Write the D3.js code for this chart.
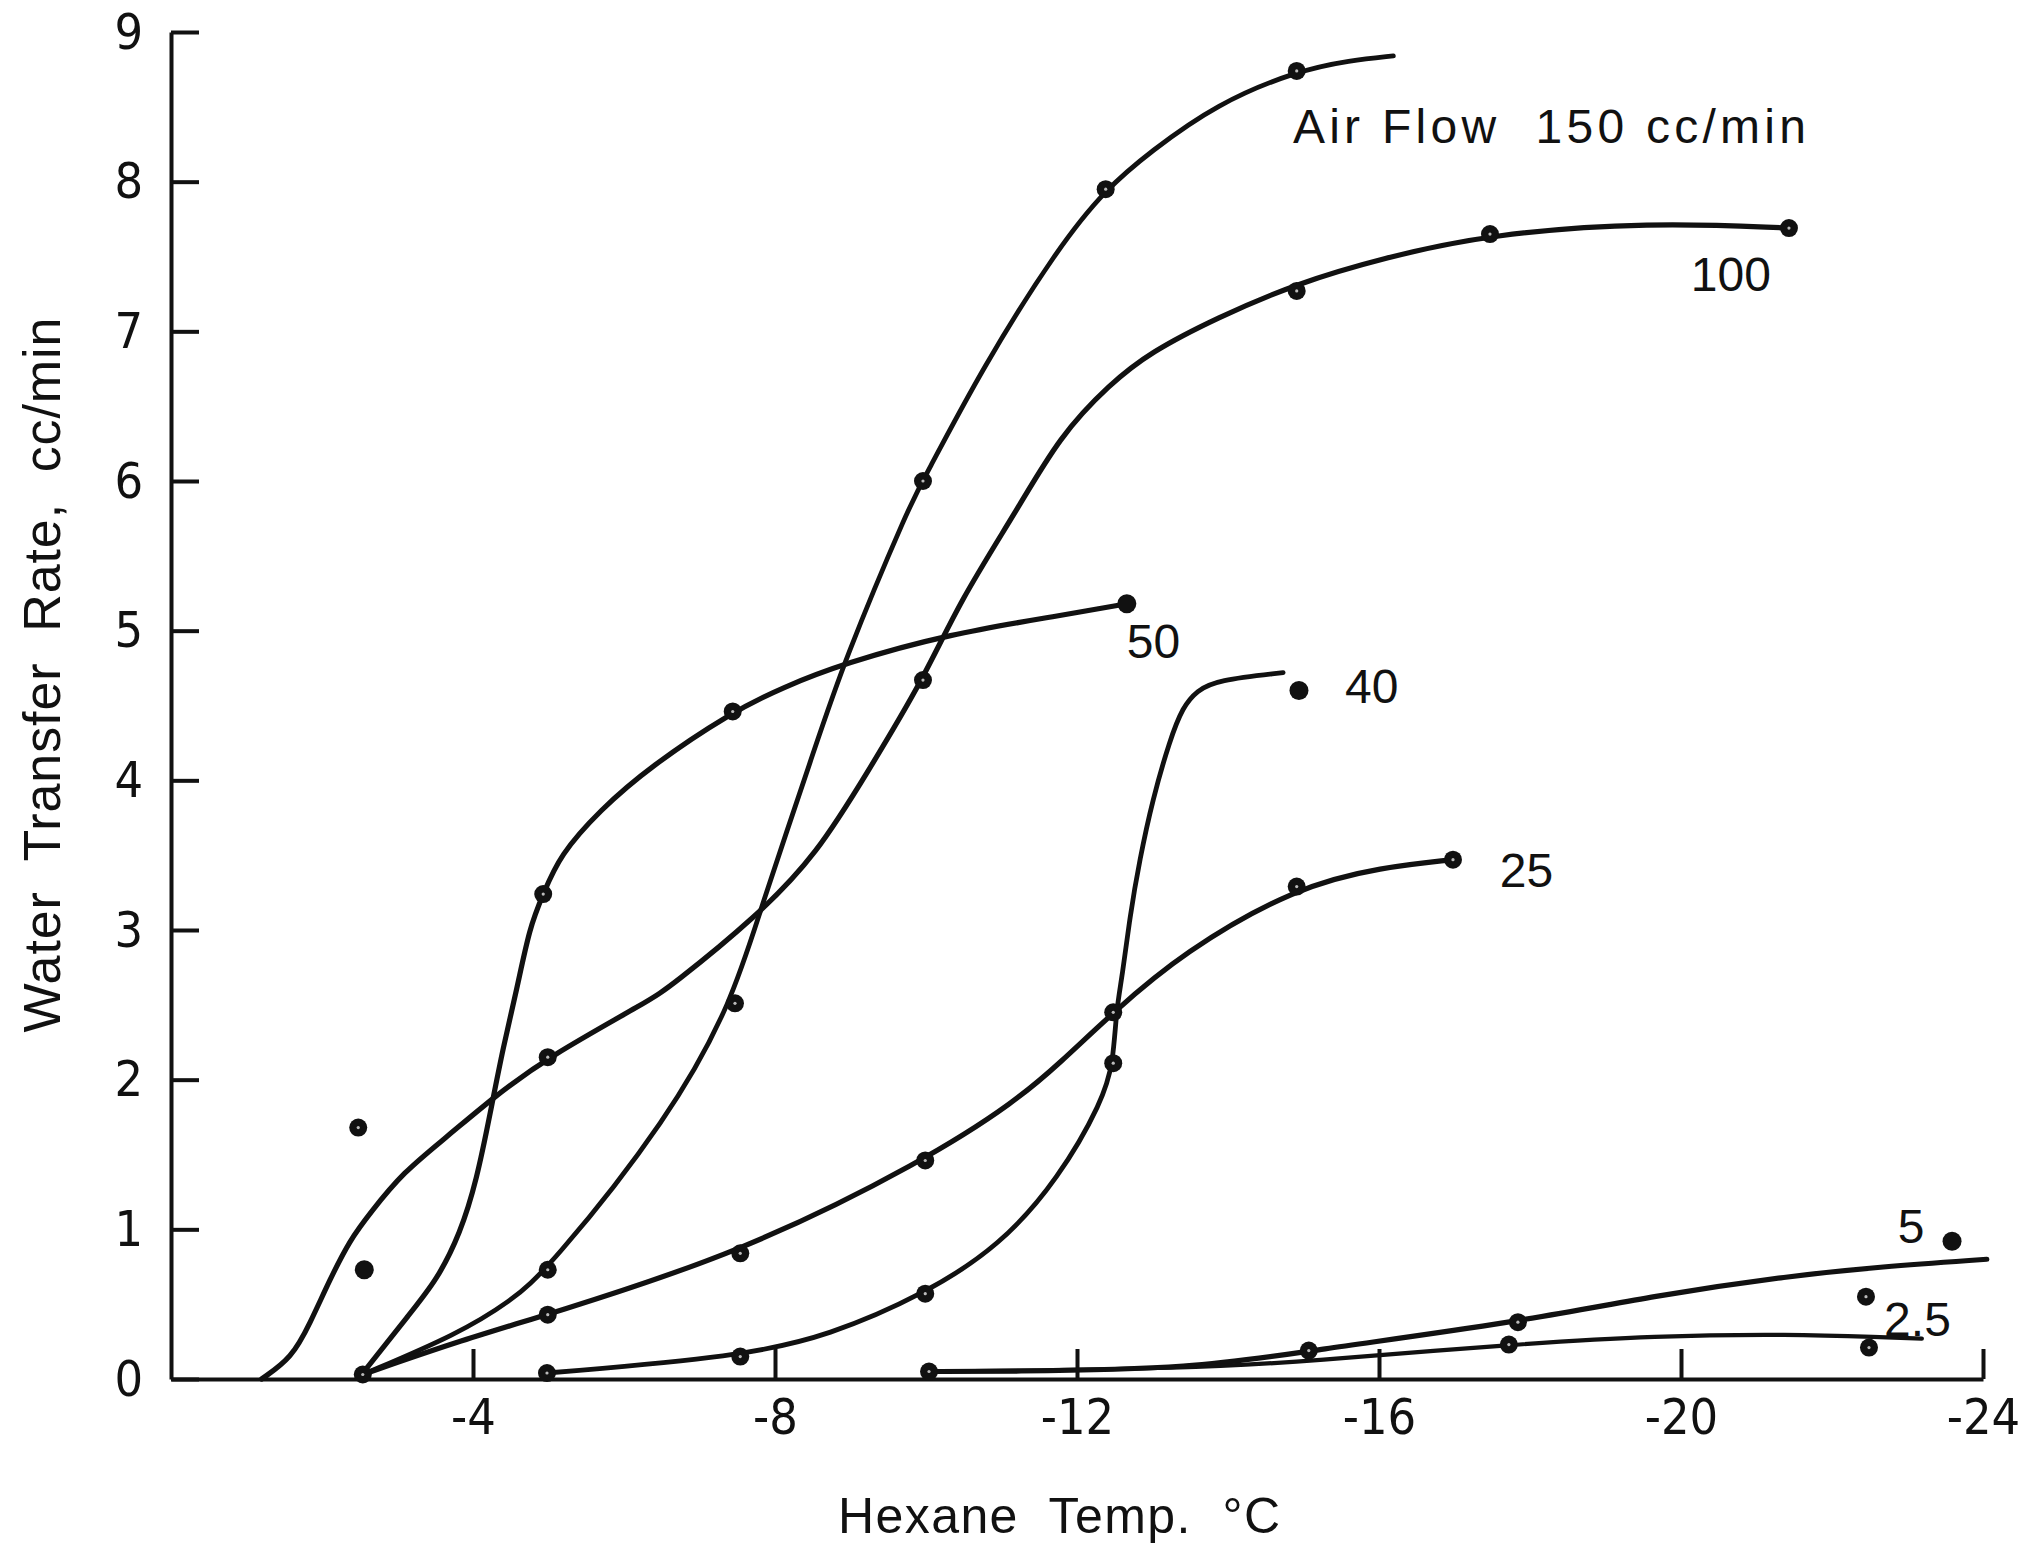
<!DOCTYPE html>
<html>
<head>
<meta charset="utf-8">
<script src="https://cdn.jsdelivr.net/npm/d3@7"></script>
<style>
  html, body { margin: 0; padding: 0; background: #fff; }
  svg { display: block; background: #fff; }
  text { fill: #111; }
  .tick text { font-family: "Liberation Sans Narrow", "DejaVu Sans Condensed", sans-serif; font-size: 50px; }
  .label { font-family: "Liberation Sans", "DejaVu Sans", sans-serif; font-size: 48px; white-space: pre; }
</style>
</head>
<body>
<svg id="chart" width="2037" height="1555"></svg>
<script>
// Water transfer rate vs. hexane temperature, one curve per air flow (cc/min)

var xTicks = [-4, -8, -12, -16, -20, -24];
var yTicks = [0, 1, 2, 3, 4, 5, 6, 7, 8, 9];

// each trace: [hexane temp C, rate cc/min]
var trace150 = [[-2.54, 0.03], [-3.8, 0.3], [-4.5, 0.52], [-4.99, 0.73], [-6.61, 1.75], [-7.44, 2.53],
  [-7.8, 3.13], [-8.52, 4.2], [-8.9, 4.78], [-9.81, 5.87], [-9.96, 6.0], [-10.75, 6.76],
  [-11.75, 7.56], [-12.38, 7.95], [-12.97, 8.2], [-13.85, 8.52], [-14.91, 8.74],
  [-15.62, 8.81], [-16.19, 8.84]];
var marks150 = [[-4.99, 0.73], [-7.47, 2.51], [-9.96, 6.0], [-12.38, 7.95], [-14.91, 8.74]];

var trace100 = [[-1.2, 0.0], [-1.6, 0.14], [-1.84, 0.37], [-2.1, 0.66], [-2.37, 0.93], [-2.64, 1.11],
  [-3.07, 1.38], [-3.66, 1.62], [-4.29, 1.89], [-4.99, 2.15], [-6.34, 2.53], [-6.61, 2.62],
  [-7.76, 3.09], [-8.56, 3.51], [-9.22, 4.05], [-9.96, 4.67], [-10.45, 5.2], [-11.2, 5.8],
  [-11.77, 6.3], [-12.44, 6.65], [-12.97, 6.86], [-13.85, 7.09], [-14.91, 7.32],
  [-16.05, 7.49], [-17.47, 7.65], [-19.59, 7.73], [-21.43, 7.69]];
var marks100 = [[-4.99, 2.15], [-9.96, 4.67], [-14.91, 7.27], [-17.47, 7.65], [-21.43, 7.69]];

var trace50 = [[-2.54, 0.04], [-3.17, 0.44], [-3.52, 0.66], [-3.83, 0.97], [-4.05, 1.33],
  [-4.23, 1.78], [-4.4, 2.22], [-4.58, 2.6], [-4.75, 3.02], [-4.93, 3.24], [-5.15, 3.5],
  [-5.68, 3.8], [-6.34, 4.09], [-7.44, 4.46], [-8.1, 4.62], [-8.9, 4.78], [-10.32, 4.98],
  [-11.77, 5.1], [-12.66, 5.18]];
var marks50 = [[-4.93, 3.24], [-7.44, 4.46]];

var trace40 = [[-4.98, 0.04], [-7.54, 0.15], [-8.72, 0.29], [-9.99, 0.57], [-10.98, 0.89],
  [-11.76, 1.34], [-12.34, 1.86], [-12.48, 2.11], [-12.52, 2.47], [-12.6, 2.69],
  [-12.7, 3.09], [-12.83, 3.47], [-13.0, 3.87], [-13.23, 4.27], [-13.4, 4.49],
  [-13.59, 4.6], [-13.85, 4.67], [-14.73, 4.72]];
var marks40 = [[-4.98, 0.04], [-7.54, 0.15], [-9.99, 0.57], [-12.48, 2.11]];

var trace25 = [[-2.54, 0.03], [-3.79, 0.25], [-4.99, 0.43], [-7.54, 0.84], [-9.99, 1.46],
  [-11.2, 1.86], [-11.77, 2.11], [-12.48, 2.45], [-13.4, 2.85], [-14.91, 3.29],
  [-16.05, 3.42], [-16.98, 3.47]];
var marks25 = [[-2.54, 0.03], [-4.99, 0.43], [-7.54, 0.84], [-9.99, 1.46], [-12.48, 2.45],
  [-14.91, 3.29], [-16.98, 3.47]];

var trace5 = [[-10.04, 0.05], [-10.98, 0.05], [-13.6, 0.07], [-15.07, 0.19], [-17.84, 0.38],
  [-19.68, 0.56], [-21.46, 0.69], [-22.64, 0.75], [-24.05, 0.8]];
var marks5 = [[-10.04, 0.05], [-15.07, 0.19], [-17.84, 0.38]];

var trace2_5 = [[-10.04, 0.05], [-13.6, 0.07], [-15.07, 0.12], [-17.72, 0.23], [-19.68, 0.29],
  [-21.46, 0.3], [-22.64, 0.28], [-23.19, 0.27]];
var marks2_5 = [[-17.72, 0.23], [-22.49, 0.21]];

// points off the curves
var looseMarks = [[-2.48, 1.68], [-22.45, 0.55]];
var solidDots = [[-12.66, 5.18], [-14.94, 4.6], [-23.59, 0.92], [-2.56, 0.73]];

// curve names and where they sit [temp, rate at baseline]
var curveLabels = [
  { text: "Air Flow  150 cc/min", at: [-14.86, 8.26], len: 513 },
  { text: "100", at: [-20.13, 7.27] },
  { text: "50", at: [-12.66, 4.82] },
  { text: "40", at: [-15.55, 4.52] },
  { text: "25", at: [-17.6, 3.29] },
  { text: "5", at: [-22.87, 0.91] },
  { text: "2.5", at: [-22.69, 0.29] }
];

///////////////////////////////////////////////////////////////////////////////
// Scales and axes

var svg = d3.select("#chart");

var x = d3.scaleLinear().domain([0, -24]).range([171, 1983]);
var y = d3.scaleLinear().domain([0, 9]).range([1379, 32]);

svg.append("g")
  .attr("transform", "translate(" + x(0) + ",0)")
  .call(d3.axisLeft(y).tickValues(yTicks).tickSizeInner(-28).tickSizeOuter(0)
    .tickPadding(28).tickFormat(function (d) { return String(d); }));

svg.append("g")
  .attr("transform", "translate(0," + y(0) + ")")
  .call(d3.axisBottom(x).tickValues(xTicks).tickSizeInner(-30).tickSizeOuter(0)
    .tickPadding(19).tickFormat(function (d) { return String(d); }));

svg.selectAll(".domain, .tick line")
  .attr("stroke", "#111")
  .attr("stroke-width", 4);
svg.selectAll(".tick text").attr("fill", "#111");

///////////////////////////////////////////////////////////////////////////////
// Curves

var line = d3.line()
  .x(function (d) { return x(d[0]); })
  .y(function (d) { return y(d[1]); })
  .curve(d3.curveBasis);

var series = [
  { trace: trace150, marks: marks150, width: 4.8 },
  { trace: trace100, marks: marks100, width: 5.2 },
  { trace: trace50, marks: marks50, width: 5.2 },
  { trace: trace40, marks: marks40, width: 4.8 },
  { trace: trace25, marks: marks25, width: 5.2 },
  { trace: trace5, marks: marks5, width: 5.2 },
  { trace: trace2_5, marks: marks2_5, width: 4.2 }
];

svg.append("g").selectAll("path")
  .data(series)
  .enter().append("path")
  .attr("d", function (s) { return line(s.trace); })
  .attr("fill", "none")
  .attr("stroke", "#111")
  .attr("stroke-width", function (s) { return s.width; })
  .attr("stroke-linecap", "round");

// ringed data points
var ringed = [];
series.forEach(function (s) { ringed = ringed.concat(s.marks); });
ringed = ringed.concat(looseMarks);

var marks = svg.append("g");
marks.selectAll("circle.ring")
  .data(ringed)
  .enter().append("circle")
  .attr("class", "ring")
  .attr("cx", function (d) { return x(d[0]); })
  .attr("cy", function (d) { return y(d[1]); })
  .attr("r", 9)
  .attr("fill", "#111");
marks.selectAll("circle.hole")
  .data(ringed)
  .enter().append("circle")
  .attr("class", "hole")
  .attr("cx", function (d) { return x(d[0]); })
  .attr("cy", function (d) { return y(d[1]); })
  .attr("r", 1.6)
  .attr("fill", "#bbb");

marks.selectAll("circle.solid")
  .data(solidDots)
  .enter().append("circle")
  .attr("class", "solid")
  .attr("cx", function (d) { return x(d[0]); })
  .attr("cy", function (d) { return y(d[1]); })
  .attr("r", 9.5)
  .attr("fill", "#111");

///////////////////////////////////////////////////////////////////////////////
// Labels

svg.append("g").selectAll("text")
  .data(curveLabels)
  .enter().append("text")
  .attr("class", "label")
  .attr("x", function (d) { return x(d.at[0]); })
  .attr("y", function (d) { return y(d.at[1]); })
  .attr("textLength", function (d) { return d.len || null; })
  .attr("lengthAdjust", "spacing")
  .text(function (d) { return d.text; });

svg.append("text")
  .attr("class", "label")
  .attr("x", 1059)
  .attr("y", 1533)
  .attr("text-anchor", "middle")
  .attr("textLength", 442)
  .attr("lengthAdjust", "spacing")
  .style("font-size", "50px")
  .text("Hexane  Temp.  \u00B0C");

svg.append("text")
  .attr("class", "label")
  .attr("transform", "translate(60,675) rotate(-90)")
  .attr("text-anchor", "middle")
  .attr("textLength", 715)
  .attr("lengthAdjust", "spacing")
  .style("font-size", "52px")
  .text("Water  Transfer  Rate,  cc/min");
</script>
</body>
</html>
